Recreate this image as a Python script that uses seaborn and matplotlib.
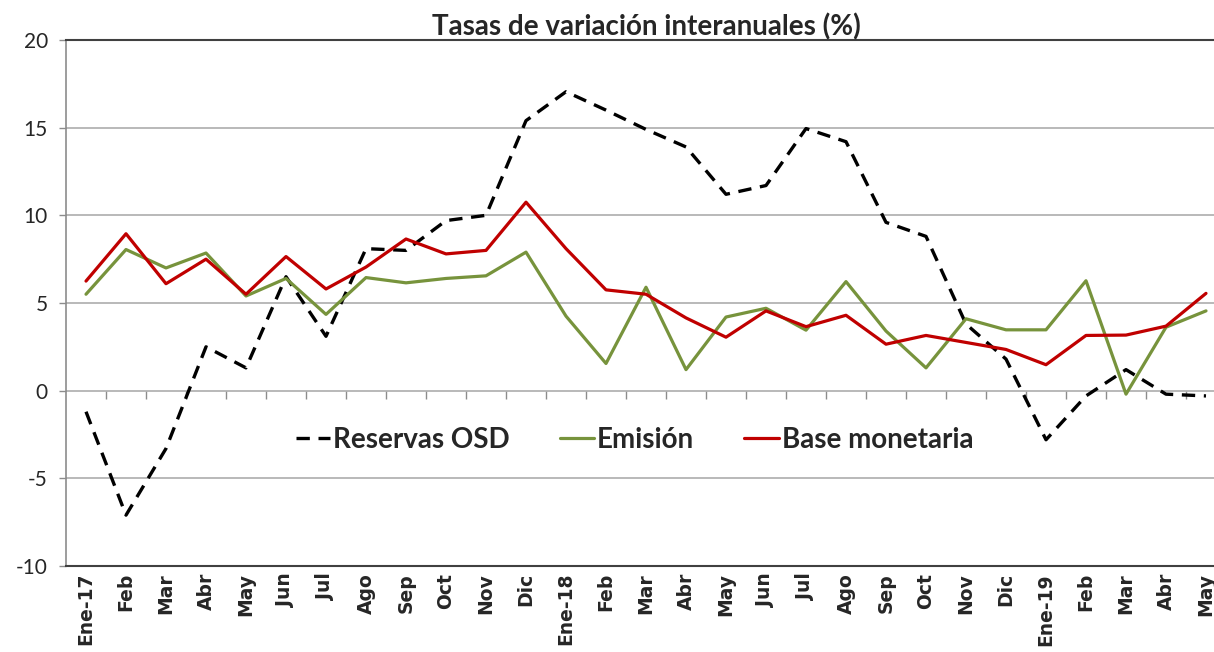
import numpy as np
import pandas as pd
import matplotlib
matplotlib.use('Agg')
import matplotlib.pyplot as plt
import seaborn as sns

# ------------------------------------------------------------
# datos (tasas de variación interanual, %)
# ------------------------------------------------------------
meses = ['Ene-17', 'Feb', 'Mar', 'Abr', 'May', 'Jun', 'Jul', 'Ago', 'Sep', 'Oct', 'Nov', 'Dic',
         'Ene-18', 'Feb', 'Mar', 'Abr', 'May', 'Jun', 'Jul', 'Ago', 'Sep', 'Oct', 'Nov', 'Dic',
         'Ene-19', 'Feb', 'Mar', 'Abr', 'May']

reservas_osd = [-1.2, -7.1, -3.3, 2.5, 1.3, 6.5, 3.1, 8.1, 8.0, 9.7, 10.0, 15.4,
                17.05, 16.0, 14.9, 13.9, 11.2, 11.7, 14.95, 14.2, 9.6, 8.8, 3.8, 1.8,
                -2.8, -0.3, 1.2, -0.2, -0.3]

emision = [5.5, 8.05, 7.0, 7.85, 5.4, 6.4, 4.35, 6.45, 6.15, 6.4, 6.55, 7.9,
           4.25, 1.55, 5.9, 1.2, 4.2, 4.7, 3.45, 6.22, 3.4, 1.3, 4.1, 3.47,
           3.47, 6.27, -0.2, 3.62, 4.55]

base_monetaria = [6.25, 8.95, 6.1, 7.5, 5.5, 7.65, 5.8, 7.05, 8.65, 7.8, 8.0, 10.75,
                  8.1, 5.75, 5.5, 4.15, 3.05, 4.55, 3.65, 4.3, 2.65, 3.15, 2.75, 2.35,
                  1.48, 3.15, 3.17, 3.68, 5.55]

df = pd.DataFrame({'pos': np.arange(len(meses)),
                   'Reservas OSD': reservas_osd,
                   'Emisión': emision,
                   'Base monetaria': base_monetaria})

# ------------------------------------------------------------
# estilo
# ------------------------------------------------------------
sns.set_style('white')
plt.rcParams['font.family'] = ['Lato', 'DejaVu Sans']
plt.rcParams['axes.unicode_minus'] = False

fig = plt.figure(figsize=(12.14, 6.52), dpi=100)
ax = fig.add_axes([66/1214, 86/652, 1160/1214, 526/652])

sns.lineplot(data=df, x='pos', y='Reservas OSD', ax=ax, color='black',
             linewidth=2.4, ls=(0, (4, 2.6)), label='Reservas OSD')
sns.lineplot(data=df, x='pos', y='Emisión', ax=ax, color='#77933C',
             linewidth=2.3, label='Emisión')
sns.lineplot(data=df, x='pos', y='Base monetaria', ax=ax, color='#C00000',
             linewidth=2.3, label='Base monetaria')

ax.set_xlim(-0.5, len(meses) - 0.5)
ax.set_ylim(-10, 20)
ax.set_yticks(range(-10, 21, 5))
ax.yaxis.grid(True, color='#A6A6A6', lw=1.1)
ax.set_axisbelow(True)
ax.set_xlabel('')
ax.set_ylabel('')

ax.set_xticks(np.arange(len(meses)))
ax.set_xticklabels(meses, rotation=90, fontfamily='DejaVu Sans',
                   fontweight='bold', fontsize=13.5)
ax.tick_params(axis='x', length=0, pad=5)
ax.tick_params(axis='y', labelsize=15, length=5, width=1, color='#8C8C8C',
               direction='out', left=True, pad=8)

for s in ['top', 'bottom']:
    ax.spines[s].set_color('#404040')
    ax.spines[s].set_linewidth(1.5)
ax.spines['left'].set_color('#8C8C8C')
ax.spines['left'].set_linewidth(1.2)
ax.spines['right'].set_visible(False)

# eje de categorías sobre la línea de cero (marcas entre meses)
sec = ax.secondary_xaxis(1/3)
sec.set_xticks(np.arange(len(meses) - 1) + 0.5)
sec.set_xticklabels([])
sec.tick_params(direction='out', length=6, width=1, color='#8C8C8C')
sec.spines['bottom'].set_visible(False)
sec.spines['top'].set_visible(False)

ax.legend(loc='center', bbox_to_anchor=(0.49, 0.24), ncol=3, frameon=False,
          prop={'family': 'Lato', 'weight': 'bold', 'size': 20},
          handlelength=1.25, handletextpad=0.1, columnspacing=1.8)

ax.text(0.5, 1.0 + 13/526, 'Tasas de variación interanuales (%)', transform=ax.transAxes,
        ha='center', va='center', fontsize=20, fontweight='bold')

fig.savefig('out.png', dpi=100)
